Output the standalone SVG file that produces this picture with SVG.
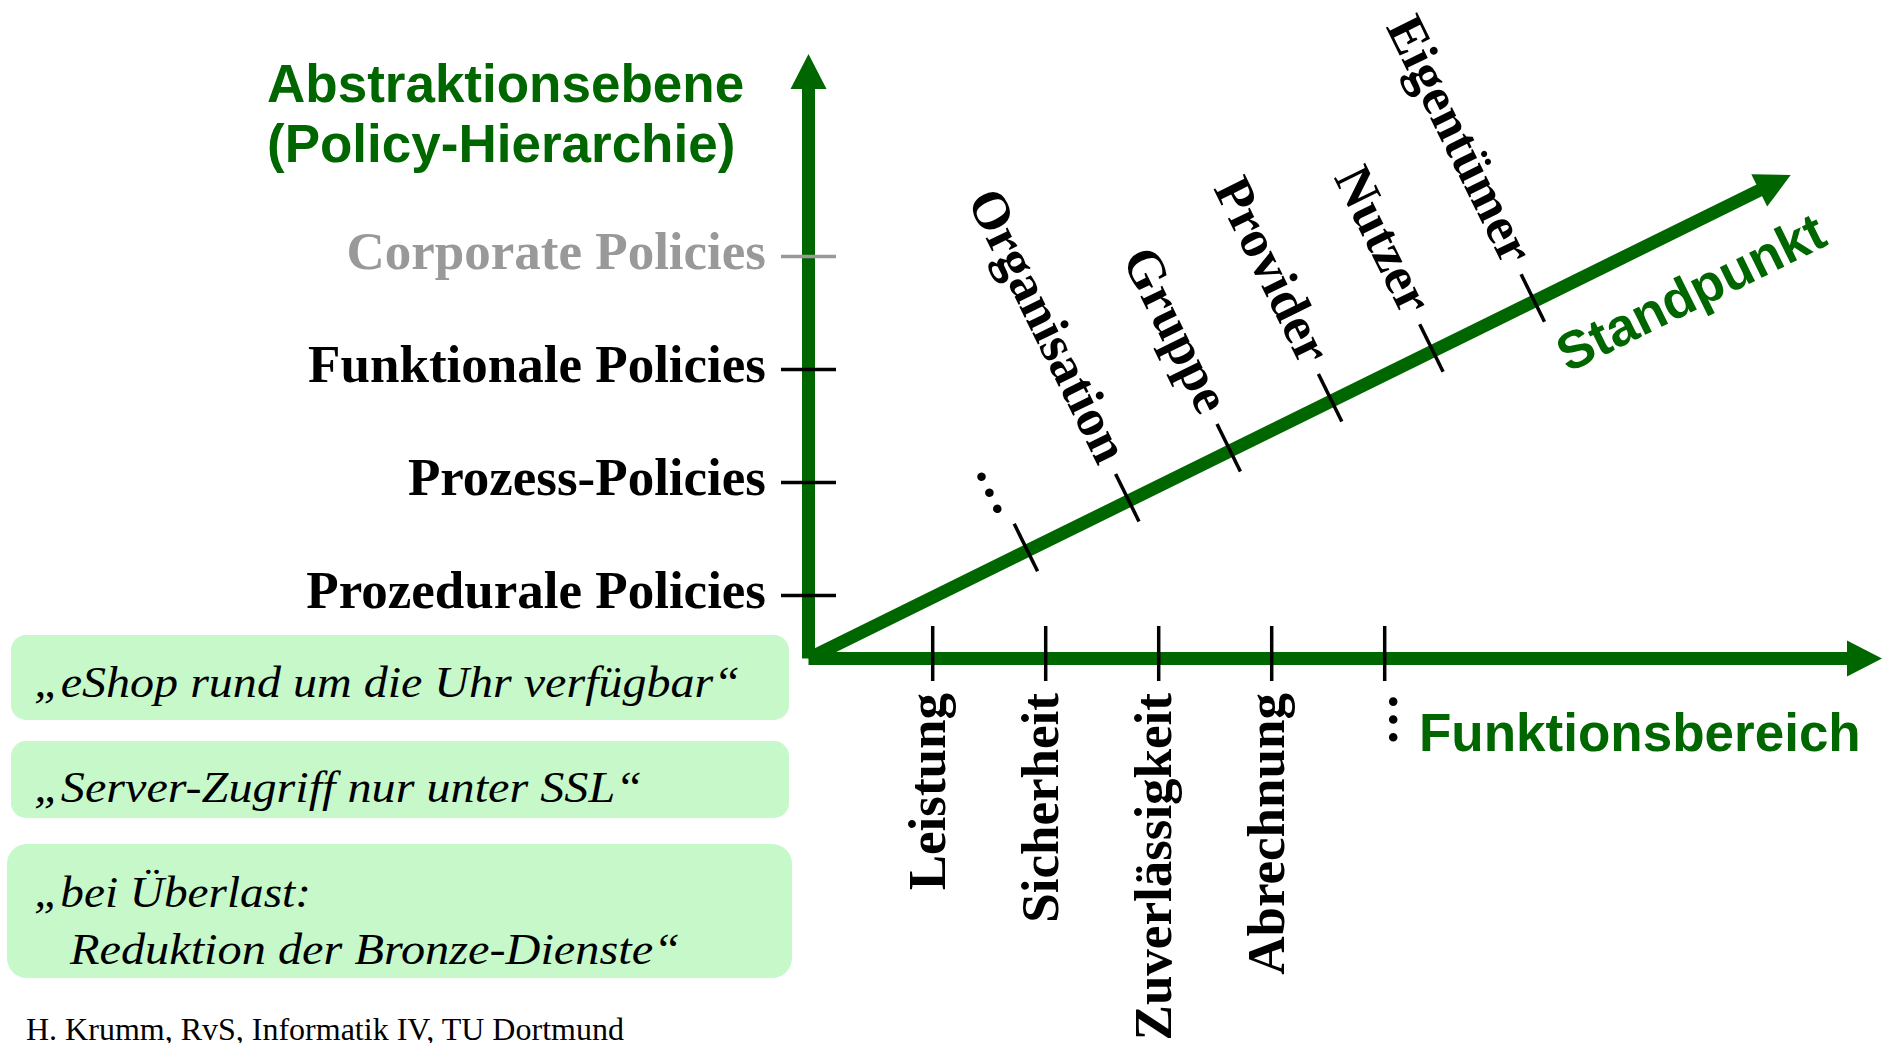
<svg xmlns="http://www.w3.org/2000/svg" width="1885" height="1043" viewBox="0 0 1885 1043">
<style>
.axis{stroke:#006600;stroke-width:13;fill:none;stroke-linecap:butt}
.head{fill:#006600}
.tick{stroke:#000;stroke-width:3.5}
.gtick{stroke:#999999;stroke-width:3.5}
.lbl{font-family:"Liberation Serif","Times New Roman",serif;font-weight:bold;font-size:53px;fill:#000}
.title{font-family:"Liberation Sans",Arial,sans-serif;font-weight:bold;font-size:53px;fill:#006600}
.box{fill:#c6f8ca}
.quote{font-family:"Liberation Serif","Times New Roman",serif;font-style:italic;font-size:45px;fill:#000}
.foot{font-family:"Liberation Serif","Times New Roman",serif;font-size:32px;fill:#000}
</style>
<rect width="1885" height="1043" fill="#ffffff"/>

<g id="connectors">
  <line class="axis" x1="808.5" y1="658.5" x2="808.5" y2="88"/>
  <polygon class="head" points="808.5,54 790.5,89 826.5,89"/>
  <line class="axis" x1="808.5" y1="658.5" x2="1848" y2="658.5"/>
  <polygon class="head" points="1882,658.5 1847,640.5 1847,676.5"/>
  <line class="axis" x1="808.5" y1="658.5" x2="1760" y2="190"/>
  <polygon class="head" points="1790.7,175 1767.2,206.6 1751.3,174.3"/>
</g>

<g id="title">
  <text class="title" x="267" y="102">Abstraktionsebene</text>
  <text class="title" x="267" y="162">(Policy-Hierarchie)</text>
</g>

<g id="levels">
  <line class="gtick" x1="781" y1="256.5" x2="836" y2="256.5"/>
  <line class="tick" x1="781" y1="369.5" x2="836" y2="369.5"/>
  <line class="tick" x1="781" y1="482.5" x2="836" y2="482.5"/>
  <line class="tick" x1="781" y1="595.5" x2="836" y2="595.5"/>
  <text class="lbl" x="766" y="269" text-anchor="end" fill="#999999" style="fill:#999999">Corporate Policies</text>
  <text class="lbl" x="766" y="382" text-anchor="end">Funktionale Policies</text>
  <text class="lbl" x="766" y="495" text-anchor="end">Prozess-Policies</text>
  <text class="lbl" x="766" y="608" text-anchor="end">Prozedurale Policies</text>
</g>

<g id="funktionsbereich">
  <line class="tick" x1="932.7" y1="626" x2="932.7" y2="681"/>
  <line class="tick" x1="1045.7" y1="626" x2="1045.7" y2="681"/>
  <line class="tick" x1="1158.7" y1="626" x2="1158.7" y2="681"/>
  <line class="tick" x1="1271.7" y1="626" x2="1271.7" y2="681"/>
  <line class="tick" x1="1384.7" y1="626" x2="1384.7" y2="681"/>
  <text class="lbl" text-anchor="end" transform="translate(945.2,693) rotate(-90)">Leistung</text>
  <text class="lbl" text-anchor="end" transform="translate(1058.2,693) rotate(-90)">Sicherheit</text>
  <text class="lbl" text-anchor="end" transform="translate(1171.2,693) rotate(-90)">Zuverlässigkeit</text>
  <text class="lbl" text-anchor="end" transform="translate(1284.2,693) rotate(-90)">Abrechnung</text>
  <text class="lbl" text-anchor="end" transform="translate(1397.2,693) rotate(-90)">…</text>
  <text class="title" x="1419" y="751">Funktionsbereich</text>
</g>

<g id="standpunkt">
  <line class="tick" x1="1014.2" y1="523.8" x2="1037.6" y2="571.3"/>
  <line class="tick" x1="1115.6" y1="473.9" x2="1139.0" y2="521.4"/>
  <line class="tick" x1="1217.0" y1="424.0" x2="1240.4" y2="471.5"/>
  <line class="tick" x1="1318.4" y1="374.1" x2="1341.8" y2="421.6"/>
  <line class="tick" x1="1419.7" y1="324.2" x2="1443.1" y2="371.7"/>
  <line class="tick" x1="1521.1" y1="274.3" x2="1544.5" y2="321.8"/>
  <text class="lbl" text-anchor="end" transform="translate(998,518) rotate(63.79)">…</text>
  <text class="lbl" text-anchor="end" transform="translate(1098.2,466.8) rotate(63.79)">Organisation</text>
  <text class="lbl" text-anchor="end" transform="translate(1199.6,416.9) rotate(63.79)">Gruppe</text>
  <text class="lbl" text-anchor="end" transform="translate(1301.0,367.0) rotate(63.79)">Provider</text>
  <text class="lbl" text-anchor="end" transform="translate(1402.3,317.1) rotate(63.79)">Nutzer</text>
  <text class="lbl" text-anchor="end" transform="translate(1503.7,267.2) rotate(63.79)">Eigentümer</text>
  <text class="title" transform="translate(1568,373) rotate(-26.21)">Standpunkt</text>
</g>

<g id="policy1">
  <rect class="box" x="11" y="635" width="778" height="85" rx="15"/>
  <text class="quote" x="34" y="697" textLength="706" lengthAdjust="spacingAndGlyphs">„eShop rund um die Uhr verfügbar“</text>
</g>
<g id="policy2">
  <rect class="box" x="11" y="741" width="778" height="77" rx="15"/>
  <text class="quote" x="34" y="802" textLength="608" lengthAdjust="spacingAndGlyphs">„Server-Zugriff nur unter SSL“</text>
</g>
<g id="policy3">
  <rect class="box" x="7" y="844" width="785" height="134" rx="20"/>
  <text class="quote" x="34" y="907" textLength="277" lengthAdjust="spacingAndGlyphs">„bei Überlast:</text>
  <text class="quote" x="70" y="964" textLength="610" lengthAdjust="spacingAndGlyphs">Reduktion der Bronze-Dienste“</text>
</g>

<g id="footer">
  <text class="foot" x="26" y="1040">H. Krumm, RvS, Informatik IV, TU Dortmund</text>
</g>
</svg>
